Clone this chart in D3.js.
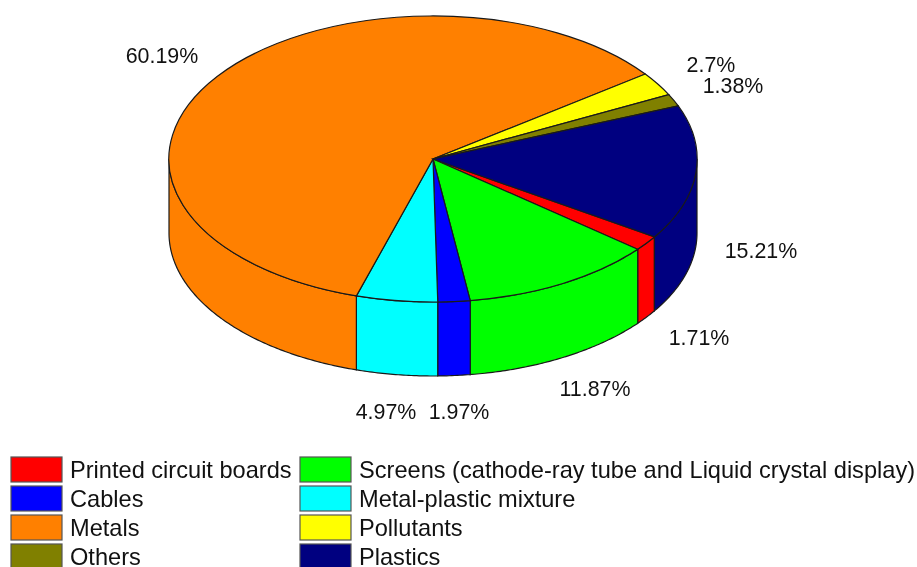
<!DOCTYPE html>
<html lang="en">

<head>
    <meta charset="utf-8">
    <title>Pie</title>
    <script type="text/javascript" src="https://d3js.org/d3.v7.min.js"></script>
    <style type="text/css">
        html, body { margin: 0; padding: 0; background: #fff; }
        svg { display: block; filter: blur(0.45px); }
        text { font-family: "Liberation Sans", Arial, sans-serif; fill: #111; }
        .label { font-size: 21.4px; text-anchor: middle; }
        .legend { font-size: 23.6px; }
    </style>
</head>

<body>
    <svg width="917" height="567"></svg>
    <script type="text/javascript">
        //Values, in drawing order
        const categories = ['Printed circuit boards', 'Screens (cathode-ray tube and Liquid crystal display)',
            'Cables', 'Metal-plastic mixture', 'Metals', 'Pollutants', 'Others', 'Plastics']
        const values = [1.71, 11.87, 1.97, 4.97, 60.19, 2.7, 1.38, 15.21]
        const valueLabels = ['1.71%', '11.87%', '1.97%', '4.97%', '60.19%', '2.7%', '1.38%', '15.21%']
        const colors = ['#ff0000', '#00ff00', '#0000ff', '#00ffff', '#ff8000', '#ffff00', '#808000', '#000080']

        //Legend runs down two columns, in this order
        const legendLeft = [0, 2, 4, 6]
        const legendRight = [1, 3, 5, 7]

        //Label centres (not on any regular radius in the original)
        const labelX = [699, 595, 459, 386, 162, 711, 733, 761]
        const labelY = [338, 389, 412, 412, 56, 65, 86, 251]

        const svg = d3.select("svg");
        const cx = 433;
        const cy = 159;
        const rx = 264;
        const ry = 143;
        const depth = 74;
        const startAngle = 123 * Math.PI / 180;

        const pie = d3.pie()
            .sort(null)
            .startAngle(startAngle)
            .endAngle(startAngle + 2 * Math.PI);
        const slices = pie(values);

        //Angles are d3's: 0 at twelve o'clock, going clockwise
        const px = a => cx + rx * Math.sin(a);
        const py = a => cy - ry * Math.cos(a);

        const wall = d3.area()
            .x(a => px(a))
            .y0(a => py(a))
            .y1(a => py(a) + depth);

        //Side walls - only the part of each slice facing the viewer
        const wallGroup = svg.append('g');
        slices.forEach((s, i) => {
            [0, 1].forEach(k => {
                const a0 = Math.max(s.startAngle - 2 * Math.PI * k, Math.PI / 2);
                const a1 = Math.min(s.endAngle - 2 * Math.PI * k, 3 * Math.PI / 2);
                if (a1 <= a0) return;
                const angles = d3.range(a0, a1, 0.01).concat([a1]);
                wallGroup.append('path')
                    .attr('d', wall(angles))
                    .attr('fill', colors[i])
                    .attr('stroke', '#1a1a1a')
                    .attr('stroke-width', 1.2);
            })
        })

        //Top face - unit arcs squashed into the ellipse
        const arc = d3.arc().innerRadius(0).outerRadius(1);
        svg.append('g')
            .attr('transform', 'translate(' + cx + ',' + cy + ') scale(' + rx + ',' + ry + ')')
            .selectAll('path')
            .data(slices)
            .enter()
            .append('path')
            .attr('d', arc)
            .attr('fill', (d, i) => colors[i])
            .attr('stroke', '#1a1a1a')
            .attr('stroke-width', 1.2)
            .attr('vector-effect', 'non-scaling-stroke');

        //Percent labels
        svg.append('g')
            .selectAll('text')
            .data(valueLabels)
            .enter()
            .append('text')
            .attr('class', 'label')
            .attr('x', (d, i) => labelX[i])
            .attr('y', (d, i) => labelY[i])
            .attr('dy', '0.35em')
            .text(d => d);

        //Legend
        const rowY = d3.scaleBand().domain(d3.range(4)).range([456, 572]);
        const drawColumn = function (rows, x, textX) {
            rows.forEach((c, row) => {
                svg.append('rect')
                    .attr('x', x)
                    .attr('y', rowY(row) + 1)
                    .attr('width', 51)
                    .attr('height', 25)
                    .attr('fill', colors[c])
                    .attr('stroke', '#555')
                    .attr('stroke-width', 1.2);
                svg.append('text')
                    .attr('class', 'legend')
                    .attr('x', textX)
                    .attr('y', rowY(row) + 14)
                    .attr('dy', '0.35em')
                    .text(categories[c]);
            })
        }
        drawColumn(legendLeft, 11, 70);
        drawColumn(legendRight, 300, 359);
    </script>
</body>

</html>
